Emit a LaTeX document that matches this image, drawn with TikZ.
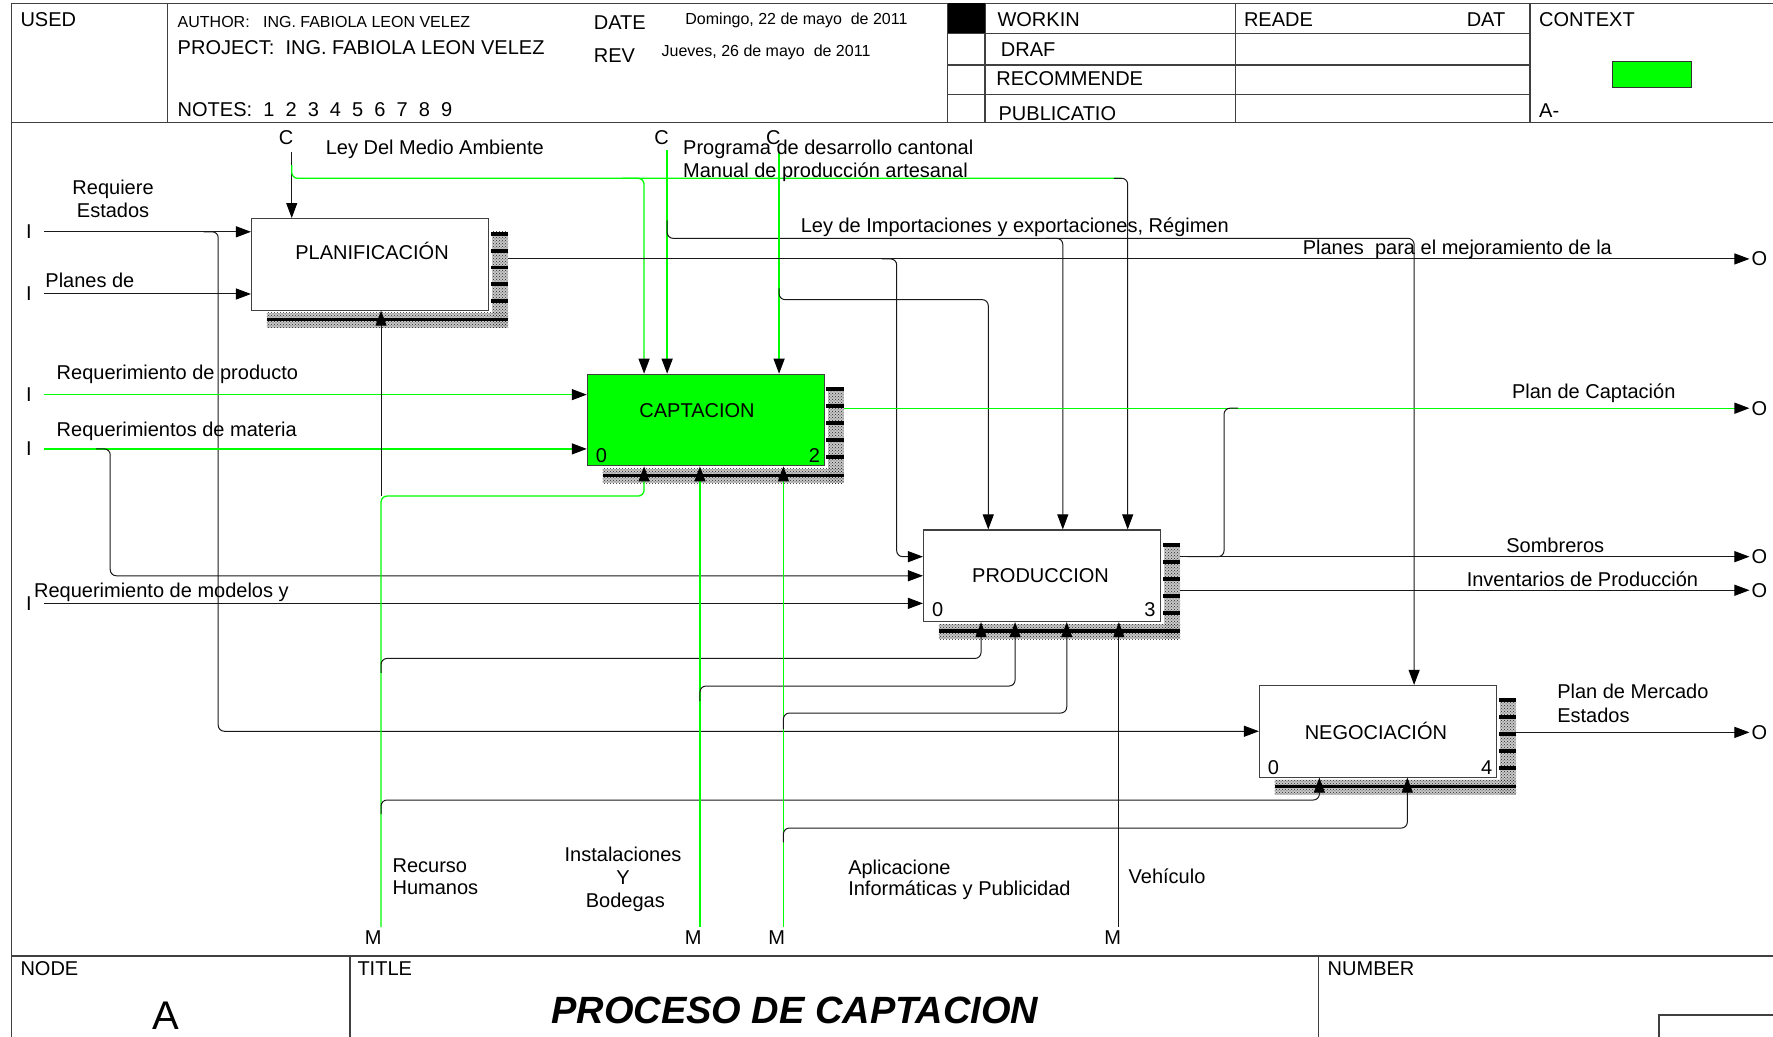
\documentclass[tikz,border=0pt]{standalone}
\usepackage{fontspec}
\setmainfont{Liberation Sans}
\usetikzlibrary{arrows.meta,patterns,calc}
\definecolor{grn}{RGB}{0,255,0}
\newcommand{\fsz}[1]{\fontsize{#1}{#1}\selectfont}
\newcommand{\idefshadow}[1]{%
  \fill[shadefill] ($(#1.north east)+(2.5,12)$) rectangle ($(#1.south east)+(16.5,15)$);
  \fill[shadefill] ($(#1.south west)+(14,2)$) rectangle ($(#1.south east)+(16.5,15)$);
  \fill[pattern=crosshatch dots, pattern color=black!85] ($(#1.north east)+(2.5,12)$) rectangle ($(#1.south east)+(16.5,15)$);
  \fill[pattern=crosshatch dots, pattern color=black!85] ($(#1.south west)+(14,2)$) rectangle ($(#1.south east)+(16.5,15)$);
  \foreach \k in {12,27,42,57,72}{\fill[black] ($(#1.north east)+(1,\k)$) rectangle ($(#1.north east)+(16.5,\k+3.5)$);}
  \fill[black] ($(#1.south west)+(14,6.5)$) rectangle ($(#1.south east)+(16.5,9.5)$);
}
\begin{document}
\begin{tikzpicture}[x=1.1307pt,y=-1.1307pt,
  blk/.style={draw=black!90, line width=1pt},
  gline/.style={draw=grn, line width=1.3pt},
  arr/.style={-{Triangle[length=15pt,width=11pt,color=black]}},
  rc/.style={rounded corners=6pt},
  tbframe/.style={draw=black!75, line width=1.4pt},
  shadefill/.style={fill=black!22},
  tl/.style={inner sep=0pt, anchor=base west, font=\fsz{20}},
  tls/.style={inner sep=0pt, anchor=base west, font=\fsz{16}},
  tc/.style={inner sep=0pt, anchor=base, font=\fsz{20}},
  pin/.style={inner sep=0pt, font=\fsz{20}},
  procbox/.style={draw=black!75, line width=1.1pt, fill=white, minimum width=237.4pt, minimum height=91.6pt, inner sep=0pt}
]
\useasboundingbox (0,0) rectangle (1568,917);

% ---------- title block ----------
\draw[tbframe] (10,917) -- (10,3) -- (1568,3);
\draw[tbframe] (10,108.5) -- (1568,108.5);
\draw[tbframe] (148,3) -- (148,108.5);
\draw[tbframe] (838,3) -- (838,108.5);
\draw[tbframe] (871,3) -- (871,108.5);
\draw[tbframe] (1092.5,3) -- (1092.5,108.5);
\draw[tbframe] (1353,3) -- (1353,108.5);
\draw[tbframe] (838,29.5) -- (1353,29.5) (838,57.5) -- (1353,57.5) (838,83.5) -- (1353,83.5);
\fill[black] (838,3) rectangle (871,29.5);
\draw[black!80, line width=0.8pt, fill=grn] (1426,54) rectangle (1496,77);

\node[tl] (tUsed) at (18,23) {USED};
\node[tls] (tAuthor) at (157,24) {AUTHOR:\ \ \ ING. FABIOLA LEON VELEZ};
\node[tl] (tProject) at (157,48) {PROJECT:\ \ ING. FABIOLA LEON VELEZ};
\node[tl] (tNotes) at (157,103) {NOTES:\ \ 1\ \ 2\ \ 3\ \ 4\ \ 5\ \ 6\ \ 7\ \ 8\ \ 9};
\node[tl] (tDate) at (525,26) {DATE};
\node[tl] (tRev) at (525,55) {REV};
\node[tls] (tDom) at (606,22) {Domingo, 22 de mayo\ \ de 2011};
\node[tls] (tJue) at (585,50) {Jueves, 26 de mayo\ \ de 2011};
\node[tl] (tWork) at (882,23) {WORKIN};
\node[tl] (tDraf) at (885,50) {DRAF};
\node[tl] (tRec) at (881,76) {RECOMMENDE};
\node[tl] (tPub) at (883,107) {PUBLICATIO};
\node[tl] (tReade) at (1100,23) {READE};
\node[tl] (tDat) at (1297,23) {DAT};
\node[tl] (tCtx) at (1361,23) {CONTEXT};
\node[tl] (tA) at (1361,104) {A-};

\draw[tbframe] (10,845.5) -- (1568,845.5);
\draw[tbframe] (309.5,845.5) -- (309.5,917);
\draw[tbframe] (1166,845.5) -- (1166,917);
\draw[tbframe] (1467,917) -- (1467,897.7) -- (1568,897.7);
\node[tl] (tNode) at (18,863) {NODE};
\node[tl] (tTitle) at (316,863) {TITLE};
\node[tl] (tNumber) at (1174,863) {NUMBER};
\node[inner sep=0pt, anchor=base, font=\fsz{40}] (tNodeA) at (147,910.5) {A};
\node[inner sep=0pt, anchor=base, font=\fsz{38}\bfseries\itshape] (tMain) at (703,905) {PROCESO DE CAPTACION};

% ---------- activity boxes ----------
\node[procbox] (plan) at (327.4,233.8) {};
\node[procbox, fill=grn] (capt) at (624.4,371.5) {};
\node[procbox] (prod) at (921.7,509.2) {};
\node[procbox] (nego) at (1218.8,646.7) {};
\idefshadow{plan}
\idefshadow{capt}
\idefshadow{prod}
\idefshadow{nego}
\node[tc] (planT) at (329,229.5) {PLANIFICACIÓN};
\node[tc] (captT) at (616.4,369.5) {CAPTACION};
\node[tc] (prodT) at (920.2,515.3) {PRODUCCION};
\node[tc] (negoT) at (1216.8,654) {NEGOCIACIÓN};
\node[pin] (capt0) at (531.8,403) {0};
\node[pin] (capt2) at (720.2,403) {2};
\node[pin] (prod0) at (829.3,539.2) {0};
\node[pin] (prod3) at (1017,539.2) {3};
\node[pin] (nego0) at (1126.2,679) {0};
\node[pin] (nego4) at (1314.8,679) {4};

% ---------- boundary labels ----------
\node[pin] (i1) at (25.5,205) {I};
\node[pin] (i2) at (25.5,260) {I};
\node[pin] (i3) at (25.5,349) {I};
\node[pin] (i4) at (25.5,397) {I};
\node[pin] (i5) at (25.5,533.6) {I};
\node[pin] (o1) at (1556,229) {O};
\node[pin] (o2) at (1556,361) {O};
\node[pin] (o3) at (1556,492.3) {O};
\node[pin] (o4) at (1556,522) {O};
\node[pin] (o5) at (1556,647.7) {O};
\node[pin] (c1) at (253,122) {C};
\node[pin] (c2) at (585,122) {C};
\node[pin] (c3) at (684,122) {C};
\node[pin] (m1) at (330,829) {M};
\node[pin] (m2) at (613,829) {M};
\node[pin] (m3) at (687,829) {M};
\node[pin] (m4) at (984,829) {M};
\coordinate (c1s) at (258,134);
\coordinate (c2s) at (590,133);
\coordinate (c3s) at (689,135);
\coordinate (m1s) at (337,820);
\coordinate (m2s) at (619,820);
\coordinate (m3s) at (692.8,820);
\coordinate (m4s) at (989.5,820);

% ---------- inputs ----------
\draw[blk,arr,shorten <=12pt] (i1) -- (plan.west |- i1);
\draw[blk,arr,rc] (180,205) -| (193,600) |- (nego.west);
\draw[blk,arr,shorten <=12pt] (i2) -- (plan.west |- i2);
\draw[gline,arr,shorten <=12pt] (i3) -- (capt.west |- i3);
\draw[gline,arr,shorten <=12pt] (i4) -- (capt.west |- i4);
\draw[blk,arr,rc] (85,397) -| (97.5,450) |- (prod.west);
\draw[blk,arr,shorten <=12pt] (i5) -- (prod.west |- i5);

% ---------- controls ----------
\draw[blk,arr] (c1s) -- (c1s |- plan.north);
\draw[gline,rc] (258,146) |- (992,157.7);
\draw[blk,arr,rc] (985,157.7) -| (prod.north -| 997.3,0);
\draw[gline,arr,rc] (550,157.7) -| (capt.north -| 569.6,0);
\draw[gline,arr] (c2s) -- (c2s |- capt.north);
\draw[blk,arr,rc] (590,195) |- (1250.6,210.8) -- (nego.north -| 1250.6,0);
\draw[blk,arr,rc] (925,210.8) -| (prod.north -| 939.9,0);
\draw[gline,arr] (c3s) -- (c3s |- capt.north);
\draw[blk,arr,rc] (689,255) |- (874,265) -- (prod.north -| 874,0);

% ---------- outputs ----------
\draw[blk,arr,shorten <=19pt,shorten >=2pt] (plan.east |- o1) -- (o1);
\draw[blk,arr,rc] (780,229) -| (793,400) |- (prod.west |- 0,492.3);
\draw[gline,arr,shorten <=19pt,shorten >=2pt] (capt.east |- o2) -- (o2);
\draw[blk,rc] (1050,492.3) -| (1082.5,400) |- (1095,361);
\draw[blk,arr,shorten <=19pt,shorten >=2pt] (prod.east |- o3) -- (o3);
\draw[blk,arr,shorten <=19pt,shorten >=2pt] (prod.east |- o4) -- (o4);
\draw[blk,arr,shorten <=19pt,shorten >=2pt] (nego.east |- o5) -- (o5);

% ---------- mechanisms ----------
\draw[gline,arr,rc] (m1s) |- (569.6,438.7) -- (capt.south -| 569.6,0);
\draw[blk,arr] (337,438.7) -- (plan.south -| 337,0);
\draw[blk,arr,rc] (337,595) |- (867.6,582.3) -- (prod.south -| 867.6,0);
\draw[blk,arr,rc] (337,720) |- (1166.8,707.5) -- (nego.south -| 1166.8,0);
\draw[gline,arr] (m2s) -- (m2s |- capt.south);
\draw[blk,arr,rc] (619,620) |- (897.7,606.7) -- (prod.south -| 897.7,0);
\draw[gline,arr] (m3s) -- (m3s |- capt.south);
\draw[blk,arr,rc] (692.8,645) |- (943.4,630.6) -- (prod.south -| 943.4,0);
\draw[blk,arr,rc] (692.8,745) |- (1244.6,732.3) -- (nego.south -| 1244.6,0);
\draw[blk,arr] (m4s) -- (m4s |- prod.south);

% ---------- arrow labels ----------
\node[tl] (lLey) at (288,137) {Ley Del Medio Ambiente};
\node[tl] (lProg) at (604,137) {Programa de desarrollo cantonal};
\node[tl] (lMan) at (604,157) {Manual de producción artesanal};
\node[tc] (lReq1) at (100,172) {Requiere};
\node[tc] (lReq2) at (100,192) {Estados};
\node[tl] (lPlanes) at (40,254) {Planes de};
\node[tl] (lRprod) at (50,336) {Requerimiento de producto};
\node[tl] (lRmat) at (50,386) {Requerimientos de materia};
\node[tl] (lRmod) at (30,528) {Requerimiento de modelos y};
\node[tl] (lImp) at (708,206) {Ley de Importaciones y exportaciones, Régimen};
\node[tl] (lMej) at (1152,225) {Planes\ \ para el mejoramiento de la};
\node[tl] (lCap) at (1337,352) {Plan de Captación};
\node[tl] (lSom) at (1332,489) {Sombreros};
\node[tl] (lInv) at (1297,519) {Inventarios de Producción};
\node[tl] (lMer1) at (1377,618) {Plan de Mercado};
\node[tl] (lMer2) at (1377,639) {Estados};
\node[tl] (lRec1) at (347,772) {Recurso};
\node[tl] (lRec2) at (347,791) {Humanos};
\node[tc] (lIns1) at (551,762) {Instalaciones};
\node[tc] (lIns2) at (551,782) {Y};
\node[tc] (lIns3) at (553,803) {Bodegas};
\node[tl] (lApl1) at (750,773) {Aplicacione};
\node[tl] (lApl2) at (750,792) {Informáticas y Publicidad};
\node[tl] (lVeh) at (998,781) {Vehículo};
\end{tikzpicture}
\end{document}
